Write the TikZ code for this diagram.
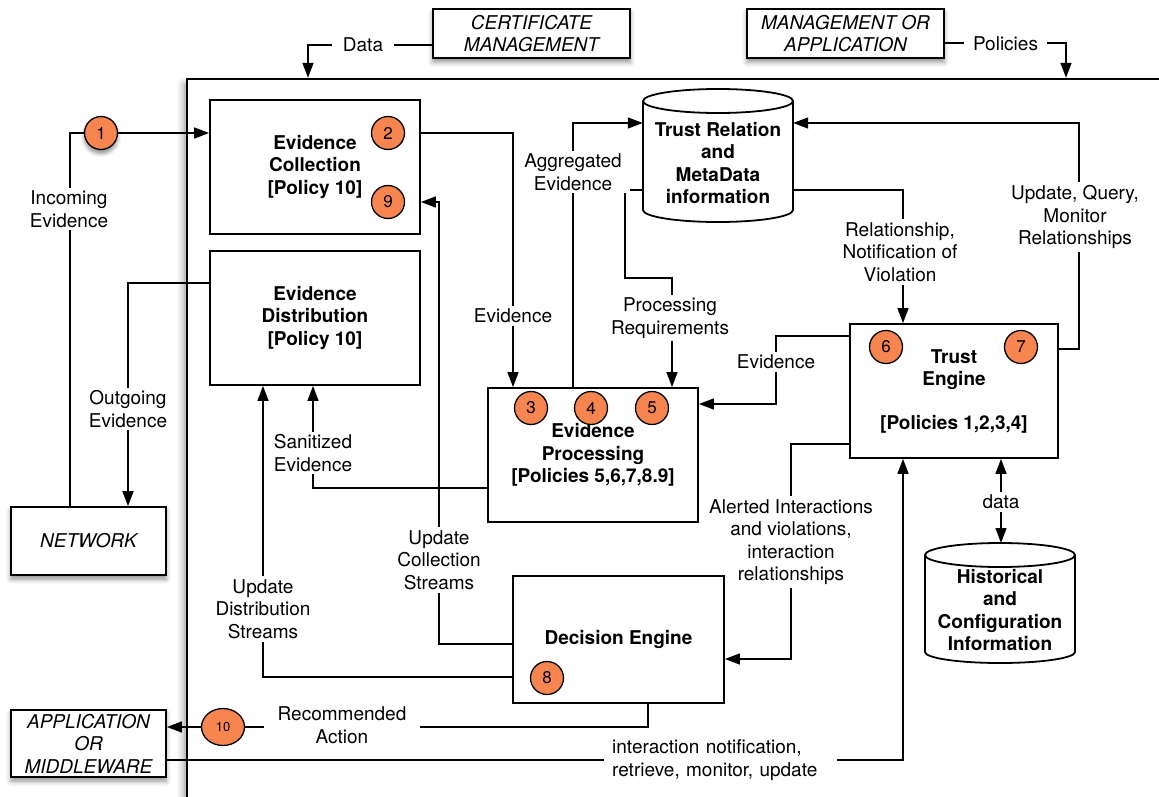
\documentclass[tikz,border=0pt]{standalone}
\usepackage{fontspec}
\setmainfont{TeX Gyre Heros}
\usetikzlibrary{arrows.meta,shadows.blur,shapes.geometric}
\definecolor{badgeorange}{RGB}{247,133,80}
\pgfdeclarelayer{wires}
\pgfdeclarelayer{front}
\pgfsetlayers{main,wires,front}

\begin{document}
\begin{tikzpicture}[x=1pt,y=-1pt,
  every node/.style={font=\fontsize{19}{22.5}\selectfont},
  conn/.style={line width=1.4pt},
  arr/.style={conn,-{Triangle[length=15pt,width=11pt]}},
  dblarr/.style={conn,{Triangle[length=15pt,width=11pt]}-{Triangle[length=15pt,width=11pt]}},
  unit/.style={draw, line width=1.8pt, fill=white, align=center, inner sep=0pt,
    font=\fontsize{19}{22.5}\selectfont\bfseries},
  boxshadow/.style={blur shadow={shadow xshift=0pt, shadow yshift=-4pt,
    shadow blur radius=5pt, shadow opacity=45}},
  actor/.style={draw, line width=1.8pt, fill=white, align=center, inner sep=0pt,
    font=\fontsize{19}{22.5}\selectfont\itshape, boxshadow},
  cyltext/.style={align=center, inner sep=0pt, minimum width=150pt,
    font=\fontsize{19}{22.5}\selectfont\bfseries},
  badge/.style={circle, draw, line width=1.3pt, fill=badgeorange, minimum size=33pt,
    inner sep=0pt, font=\fontsize{17}{17}\selectfont},
  lbl/.style={fill=white, align=center, inner xsep=8pt, inner ysep=3pt},
  ]
\useasboundingbox (0,0) rectangle (1159,797);

% system boundary (shadowed shapes come first, before any layer content)
\node[draw, line width=2.4pt, fill=white, minimum width=1013pt, minimum height=761pt,
  blur shadow={shadow xshift=-2pt, shadow yshift=-6pt, shadow blur radius=8pt, shadow opacity=50}]
  (sys) at (693.5,459.5) {};

% external actors
\node[actor, minimum width=197pt, minimum height=49pt] (cert) at (531.5,33.5) {CERTIFICATE\\MANAGEMENT};
\node[actor, minimum width=197pt, minimum height=49pt] (mgmt) at (845.5,33.5) {MANAGEMENT OR\\APPLICATION};
\node[actor, minimum width=155pt, minimum height=68pt] (net) at (88.5,541) {NETWORK};
\node[actor, minimum width=155pt, minimum height=67pt] (app) at (88.5,743.5) {APPLICATION\\OR\\MIDDLEWARE};
\node[badge, blur shadow={shadow xshift=0pt, shadow yshift=-4pt, shadow blur radius=4pt, shadow opacity=45}] (c1) at (101,133) {1};

% functional units
\node[unit, minimum width=210pt, minimum height=134pt] (ec) at (315,167) {Evidence\\Collection\\{[Policy 10]}};
\node[unit, minimum width=210pt, minimum height=134pt] (ed) at (315,318) {Evidence\\Distribution\\{[Policy 10]}};
\node[unit, minimum width=210pt, minimum height=134pt] (ep) at (593,455) {Evidence\\Processing\\{[Policies 5,6,7,8.9]}};
\node[unit, minimum width=208pt, minimum height=134pt] (te) at (954,391) {Trust\\Engine\\[21pt]{[Policies 1,2,3,4]}};
\begin{pgfonlayer}{front}
\node[unit, minimum width=211pt, minimum height=127pt] (de) at (618.5,639.5) {Decision Engine};
\node[badge] (c8) at (547,678) {8};
\end{pgfonlayer}

% data stores
\path[draw, fill=white, line width=1.8pt] (643,101) -- (643,210)
  arc[start angle=180, end angle=360, x radius=75pt, y radius=12pt] -- (793,101)
  arc[start angle=0, end angle=180, x radius=75pt, y radius=12pt] -- cycle;
\draw[line width=1.8pt] (643,101) arc[start angle=180, end angle=360, x radius=75pt, y radius=12pt];
\node[cyltext] (trm) at (718,163) {Trust Relation\\and\\MetaData\\information};

\path[draw, fill=white, line width=1.8pt] (925,555) -- (925,652)
  arc[start angle=180, end angle=360, x radius=75pt, y radius=11pt] -- (1075,555)
  arc[start angle=0, end angle=180, x radius=75pt, y radius=12pt] -- cycle;
\draw[line width=1.8pt] (925,555) arc[start angle=180, end angle=360, x radius=75pt, y radius=12pt];
\node[cyltext] (hist) at (1000,610) {Historical\\and\\Configuration\\Information};
\coordinate (histtop) at (1001,543);

% numbered badges
\node[badge] (c2) at (388,133) {2};
\node[badge] (c9) at (388,202) {9};
\node[badge] (c3) at (531,408) {3};
\node[badge] (c4) at (591,408) {4};
\node[badge] (c5) at (652,408) {5};
\node[badge] (c6) at (886,347) {6};
\node[badge] (c7) at (1021,347) {7};
\node[badge, ellipse, minimum width=43pt, minimum height=37pt, font=\fontsize{13}{13}\selectfont] (c10) at (223,727) {10};

\begin{pgfonlayer}{wires}
% connectors
\draw[arr] (cert.west |- 0,45) -| (sys.north -| 308,0);
\draw[arr] (mgmt.east |- 0,43) -| (sys.north -| 1066,0);
\draw[conn] (net.north -| 70,0) |- (c1.west);
\draw[arr] (c1.east) -- (ec.west |- c1);
\draw[arr] (ed.west |- 0,283) -| (net.north -| 128,0);
\draw[arr] (ec.east |- c2) -| (ep.north -| 513,0);
\draw[arr] (ep.north -| 573,0) |- (trm.west |- 0,123);
\draw[arr] (trm.west |- 0,190) -| (625,278) -| (ep.north -| 672,0);
\draw[arr] (trm.east |- 0,190) -| (te.north -| 903,0);
\draw[arr] (te.east |- 0,349) -| (1079,123) -- (trm.east |- 0,123);
\draw[arr] (te.west |- 0,336) -| (776,404) -- (ep.east |- 0,404);
\draw[arr] (te.west |- 0,444) -| (791,659) -- (de.east |- 0,659);
\draw[arr] (ep.west |- 0,488) -| (ed.south -| 313,0);
\draw[arr] (de.west |- 0,644) -| (439,202) -- (ec.east |- c9);
\draw[arr] (de.west |- 0,677) -| (ed.south -| 263,0);
\draw[conn] (de.south -| 648,0) |- (c10.east);
\draw[arr] (c10.west) -- (app.east |- c10);
\draw[arr] (app.east |- 0,760) -| (te.south -| 903,0);
\draw[dblarr] (te.south -| histtop) -- (histtop);

% connector labels
\node[lbl, inner xsep=11pt] (lData) at (363,45) {Data};
\node[lbl, inner xsep=9pt] (lPol) at (1005.5,44) {Policies};
\node[lbl] (lIn) at (69,209) {Incoming\\Evidence};
\node[lbl] (lOut) at (128,409) {Outgoing\\Evidence};
\node[lbl] (lEv1) at (513,316) {Evidence};
\node[lbl] (lAgg) at (573,172) {Aggregated\\Evidence};
\node[lbl] (lReq) at (670,318) {Processing\\Requirements};
\node[lbl] (lRel) at (900,252) {Relationship,\\Notification of\\Violation};
\node[lbl] (lUpd) at (1075,217) {Update, Query,\\Monitor\\Relationships};
\node[lbl] (lEv2) at (776,362) {Evidence};
\node[lbl] (lSan) at (313,453) {Sanitized\\Evidence};
\node[lbl] (lAlert) at (791,542) {Alerted Interactions\\and violations,\\interaction\\relationships};
\node[lbl] (lColl) at (439,560) {Update\\Collection\\Streams};
\node[lbl] (lDist) at (263,609) {Update\\Distribution\\Streams};
\node[lbl, inner xsep=14pt] (lRec) at (342,725) {Recommended\\Action};
\node[lbl, anchor=west, align=left, text width=217pt] (lInt) at (604,760) {interaction notification,\\retrieve, monitor, update};
\node[lbl] (lData2) at (1001,502) {data};
\end{pgfonlayer}
\end{tikzpicture}
\end{document}
